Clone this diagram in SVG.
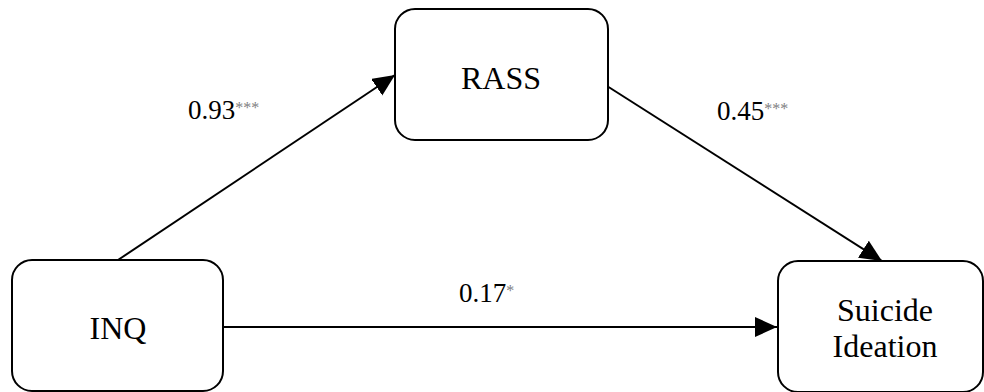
<svg xmlns="http://www.w3.org/2000/svg" width="984" height="392" viewBox="0 0 984 392">
<style>
.box{fill:#fff;stroke:#000;stroke-width:2}
.lbl{font-family:"Liberation Serif","Times New Roman",serif;font-size:32px;fill:#000;text-anchor:middle}
.coef{font-family:"Liberation Serif","Times New Roman",serif;font-size:27px;fill:#000}
.sig{font-size:16px;fill:#808080}
.edge{stroke:#000;stroke-width:2;fill:none}
</style>
<defs>
<marker id="ah" markerUnits="userSpaceOnUse" markerWidth="24" markerHeight="22" refX="22" refY="10" orient="auto">
<path d="M0,0 L22,10 L0,20 Z" fill="#000"/>
</marker>
</defs>
<rect width="984" height="392" fill="#fff"/>
<g id="connectors">
<line class="edge" x1="118" y1="260" x2="395" y2="75" marker-end="url(#ah)"/>
<line class="edge" x1="607" y1="86" x2="882" y2="261" marker-end="url(#ah)"/>
<line class="edge" x1="223" y1="327" x2="777" y2="327" marker-end="url(#ah)"/>
</g>
<g id="node-inq">
<rect class="box" x="12" y="260" width="211" height="131" rx="20"/>
<text class="lbl" x="118" y="339">INQ</text>
</g>
<g id="node-rass">
<rect class="box" x="395" y="9" width="213" height="131" rx="20"/>
<text class="lbl" x="501" y="89">RASS</text>
</g>
<g id="node-si">
<rect class="box" x="778" y="261" width="205" height="131" rx="20"/>
<text class="lbl" x="885" y="321">Suicide</text>
<text class="lbl" x="885" y="357">Ideation</text>
</g>
<g id="labels">
<text class="coef" x="188" y="119">0.93<tspan class="sig" dy="-6">***</tspan></text>
<text class="coef" x="717" y="120">0.45<tspan class="sig" dy="-6">***</tspan></text>
<text class="coef" x="459" y="302">0.17<tspan class="sig" dy="-6">*</tspan></text>
</g>
</svg>
